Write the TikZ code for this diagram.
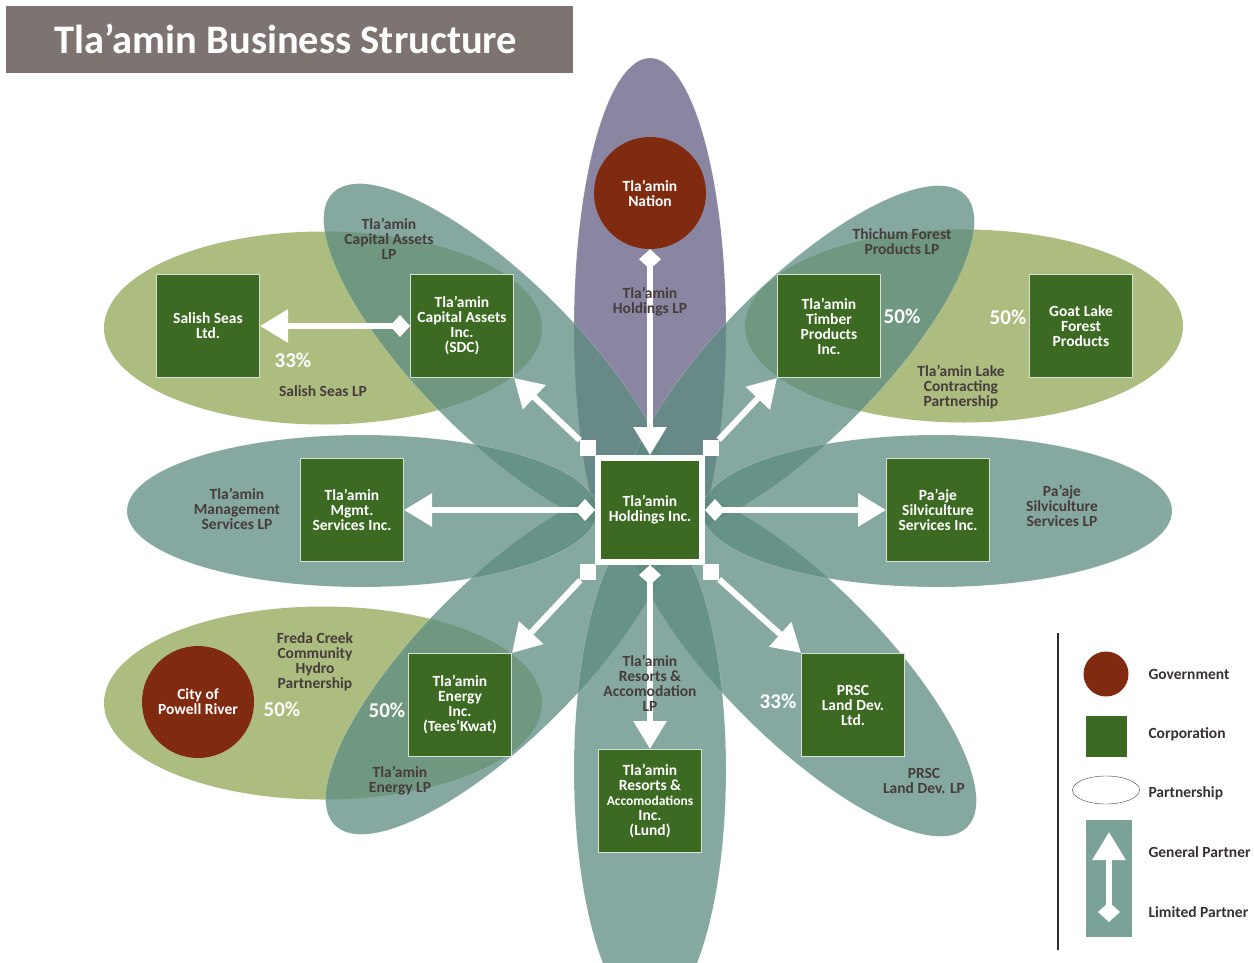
\documentclass[tikz,border=0pt]{standalone}
\usepackage{fontspec}
\setmainfont{Carlito}
\usetikzlibrary{shapes.geometric}
\usetikzlibrary{arrows.meta}
\usetikzlibrary{positioning}
\definecolor{tealpetal}{RGB}{92,139,128}
\definecolor{olivepart}{RGB}{173,188,127}
\definecolor{purplepetal}{RGB}{138,133,160}
\definecolor{corpgreen}{RGB}{60,106,34}
\definecolor{govred}{RGB}{128,42,16}
\definecolor{labelgray}{RGB}{70,60,60}
\definecolor{titlegray}{RGB}{125,115,112}
\definecolor{legendteal}{RGB}{122,162,152}
\tikzset{
petal/.style={ % Sets the properties for each teal partnership
ellipse, inner sep=0pt,
fill=tealpetal, fill opacity=0.75,
draw=white, draw opacity=0.3, thin,
minimum width=470pt, minimum height=158pt},
partner/.style={ % Olive partnerships
ellipse, inner sep=0pt, fill=olivepart,
minimum width=438pt, minimum height=193pt},
company/.style={ % Sets the properties for each corporation
rectangle, fill=corpgreen, draw=white!80!corpgreen,
line width=1pt, minimum size=103pt, inner sep=1pt,
text=white, align=center,
font=\bfseries\fontsize{15.5}{15}\selectfont},
govt/.style={ % Government circles
circle, fill=govred, minimum size=112pt, inner sep=0pt,
text=white, align=center,
font=\bfseries\fontsize{15.5}{15}\selectfont},
lbl/.style={ % Partnership names
text=labelgray, align=center,
font=\bfseries\fontsize{15.5}{15}\selectfont},
pct/.style={ % Ownership shares
text=white,
font=\bfseries\fontsize{21}{21}\selectfont},
cornersq/.style={rectangle, fill=white, minimum size=16pt, inner sep=0pt},
gp/.style={-{Triangle[width=32pt,length=28pt]}},
every edge/.style={ % Sets the properties for each ownership link
draw=white, line width=6pt,
{Diamond[width=22pt,length=20pt]}-{Triangle[width=32pt,length=28pt]}}}
\begin{document}
\begin{tikzpicture}[x=1pt, y=-1pt]
\useasboundingbox (0,0) rectangle (1254,962);
% title
\fill[titlegray] (6,6) rectangle (573,73);
\node[text=white, font=\bfseries\fontsize{40.5}{40}\selectfont] (title) at (286,39) {Tla’amin Business Structure};

% partnerships
\begin{scope}
\clip (0,0) rectangle (1254,560);
\node[petal, fill=purplepetal, fill opacity=1, rotate=90, minimum width=540pt, minimum height=152pt] (holdlp) at (650,328) {};
\end{scope}
\node[partner] (salishlp) at (323,328) {};
\node[partner] (lakelp) at (964,326) {};
\node[partner] (fredalp) at (323,703) {};
\node[petal, rotate=-45] (capitallp) at (499,359) {};
\node[petal, rotate=45] (thichumlp) at (799,361) {};
\node[petal, rotate=45] (energylp) at (501,659) {};
\node[petal, rotate=-45] (prsclp) at (801,661) {};
\node[petal, minimum height=152pt] (mgmtlp) at (362,511) {};
\node[petal, minimum height=152pt] (paajelp) at (937,511) {};
\node[petal, rotate=90, minimum width=492pt, minimum height=152pt] (resortlp) at (650,770) {};

% government
\node[govt] (nation) at (650,193) {Tla’amin\\Nation};
\node[govt] (city) at (198,702) {City of\\Powell River};

% corporations
\node[company, draw=white, line width=6pt, minimum size=104pt] (hold) at (650,510) {Tla’amin\\Holdings Inc.};
\node[company] (salish) at (208,326) {Salish Seas\\Ltd.};
\node[company] (sdc) at (462,326) {Tla’amin\\Capital Assets\\Inc.\\(SDC)};
\node[company] (timber) at (829,326) {Tla’amin\\Timber\\Products\\Inc.};
\node[company] (goat) at (1081,326) {Goat Lake\\Forest\\Products};
\node[company] (mgmt) at (352,510) {Tla’amin\\Mgmt.\\Services Inc.};
\node[company] (paaje) at (938,510) {Pa’aje\\Silviculture\\Services Inc.};
\node[company] (energy) at (460,705) {Tla’amin\\Energy\\Inc.\\(Tees’Kwat)};
\node[company] (prsc) at (853,705) {PRSC\\Land Dev.\\Ltd.};
\node[company] (resort) at (650,801) {Tla’amin\\Resorts \&\\{\fontsize{13.5}{15}\selectfont Accomodations}\\Inc.\\(Lund)};

% corner squares of the holding company
\node[cornersq] (sqnw) at (588,448) {};
\node[cornersq] (sqne) at (711,448) {};
\node[cornersq] (sqsw) at (588,572) {};
\node[cornersq] (sqse) at (711,572) {};

% ownership links
\draw (nation) edge (hold);
\draw (sdc) edge (salish);
\draw (hold) edge (mgmt);
\draw (hold) edge (paaje);
\draw (hold) edge (resort);
\draw (sqnw) edge[gp] (sdc.south east);
\draw (sqne) edge[gp] (timber.south west);
\draw (sqsw) edge[gp] (energy.north east);
\draw (sqse) edge[gp] (prsc.north west);

% partnership names
\node[lbl] (capitalname) at (389,239) {Tla’amin\\Capital Assets\\LP};
\node[lbl] (salishname) at (323,391) {Salish Seas LP};
\node[lbl] (holdname) at (650,302) {Tla’amin\\Holdings LP};
\node[lbl] (thichumname) at (902,242) {Thichum Forest\\Products LP};
\node[lbl] (lakename) at (961,387) {Tla’amin Lake\\Contracting\\Partnership};
\node[lbl] (mgmtname) at (237,509) {Tla’amin\\Management\\Services LP};
\node[lbl] (paajename) at (1062,506) {Pa’aje\\Silviculture\\Services LP};
\node[lbl] (fredaname) at (315,662) {Freda Creek\\Community\\Hydro\\Partnership};
\node[lbl] (energyname) at (400,781) {Tla’amin\\Energy LP};
\node[lbl] (resortname) at (650,683) {Tla’amin\\Resorts \&\\Accomodation\\LP};
\node[lbl] (prscname) at (924,781) {PRSC\\Land Dev. LP};

% shares
\node[pct] (pctsalish) at (293,360) {33\%};
\node[pct] (pcttimber) at (902,316) {50\%};
\node[pct] (pctgoat) at (1008,317) {50\%};
\node[pct] (pctcity) at (282,709) {50\%};
\node[pct] (pctenergy) at (387,710) {50\%};
\node[pct] (pctprsc) at (778,701) {33\%};

% legend
\draw[labelgray!70!black, line width=1.2pt] (1058,633) -- (1058,950);
\node[circle, fill=govred, minimum size=45pt, inner sep=0pt] (keygov) at (1106,674) {};
\node[rectangle, fill=corpgreen, minimum size=41pt, inner sep=0pt] (keycorp) at (1106,736) {};
\node[ellipse, draw=labelgray, thin, minimum width=67pt, minimum height=28pt, inner sep=0pt] (keypart) at (1106,790) {};
\fill[legendteal] (1086,820) rectangle (1132,937);
\coordinate (keytop) at (1109,832);
\coordinate (keybot) at (1109,922);
\draw (keybot) edge (keytop);
\node[lbl, anchor=west, text=labelgray!80!black] at (1145,674) {Government};
\node[lbl, anchor=west, text=labelgray!80!black] at (1145,734) {Corporation};
\node[lbl, anchor=west, text=labelgray!80!black] at (1145,793) {Partnership};
\node[lbl, anchor=west, text=labelgray!80!black] at (1145,852) {General Partner};
\node[lbl, anchor=west, text=labelgray!80!black] at (1145,912) {Limited Partner};
\end{tikzpicture}
\end{document}
